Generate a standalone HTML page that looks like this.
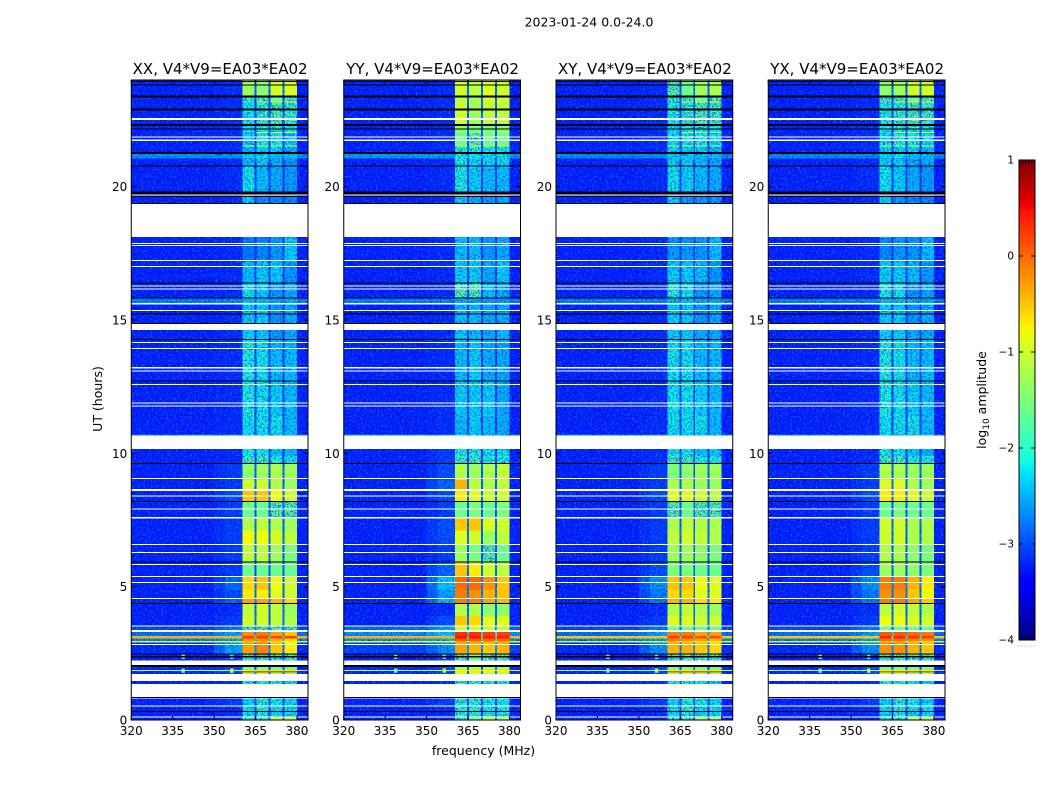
<!DOCTYPE html>
<html>
<head>
<meta charset="utf-8">
<title>2023-01-24 0.0-24.0</title>
<style>
html,body{margin:0;padding:0;background:#fff;width:1050px;height:800px;overflow:hidden}
svg{display:block}
text{font-family:"DejaVu Sans","Liberation Sans",sans-serif;fill:#000}
</style>
</head>
<body>
<svg id="chart" xmlns="http://www.w3.org/2000/svg" width="1050" height="800" viewBox="0 0 1050 800">
  <defs>
    <filter id="grain-light" x="0" y="0" width="100%" height="100%" color-interpolation-filters="sRGB">
      <feTurbulence type="fractalNoise" baseFrequency="0.55" numOctaves="1" seed="4"/>
      <feColorMatrix type="matrix" values="0 0 0 0 0.05  0 0 0 0 0.6  0 0 0 0 1  3.4 0 0 0 -1.55"/>
    </filter>
    <filter id="grain-dark" x="0" y="0" width="100%" height="100%" color-interpolation-filters="sRGB">
      <feTurbulence type="fractalNoise" baseFrequency="0.55" numOctaves="1" seed="11"/>
      <feColorMatrix type="matrix" values="0 0 0 0 0  0 0 0 0 0.02  0 0 0 0 0.8  0 3.4 0 0 -1.55"/>
    </filter>
  </defs>
  <rect width="1050" height="800" fill="#fff"/>
  <text x="589" y="26.5" font-size="12.5" text-anchor="middle">2023-01-24 0.0-24.0</text>
  <text x="483.5" y="755" font-size="12.5" text-anchor="middle">frequency (MHz)</text>
  <text transform="translate(102,399) rotate(-90)" font-size="12.5" text-anchor="middle">UT (hours)</text>
  <text transform="translate(986,400) rotate(-90)" font-size="12.5" text-anchor="middle">log<tspan font-size="9" dy="3">10</tspan><tspan dy="-3"> amplitude</tspan></text>
  <g id="panels"></g>
  <g id="colorbar"></g>
</svg>
<script>
// ---- data -----------------------------------------------------------------
const panelTitles = ["XX, V4*V9=EA03*EA02", "YY, V4*V9=EA03*EA02", "XY, V4*V9=EA03*EA02", "YX, V4*V9=EA03*EA02"];
const hourTicks = [0, 5, 10, 15, 20];
const freqTicks = [320, 335, 350, 365, 380];
const colorbarTicks = [1, 0, -1, -2, -3, -4];
const colorbarTickLabels = ["1", "0", "\u22121", "\u22122", "\u22123", "\u22124"];

// time blocks, hours [upper, lower]
const blockHours = [
[24,23.4],[23.4,23.19],[23.19,23.15],[23.15,22.3],[22.3,22.05],[22.05,22.01],[22.01,21.55],[21.55,21.51],[21.51,21.23],[21.23,21.05],
[21.05,20.78],[20.78,19.8],[19.8,18.1],[18.1,17.2],[17.2,16.4],[16.4,15.85],[15.85,15.6],[15.6,14.88],[14.88,14.25],[14.25,12.7],
[12.7,11.4],[11.4,10.7],[10.7,10.16],[10.16,9.9],[9.9,9.6],[9.6,9.0],[9.0,8.65],[8.65,8.2],[8.2,7.6],[7.6,7.1],
[7.1,6.56],[6.56,5.91],[5.91,5.4],[5.4,4.9],[4.9,4.58],[4.58,4.37],[4.37,3.9],[3.9,3.55],[3.55,3.3],[3.3,3.15],
[3.15,3.05],[3.05,2.96],[2.96,2.9],[2.9,2.49],[2.49,2.0],[2.0,1.88],[1.88,1.84],[1.84,1.78],[1.78,1.47],[1.47,0.81],
[0.81,0.5],[0.5,0.09],[0.09,0]
];

// log10 amplitude per block: [background, shoulder, band1, band2, band3, band4]
const levelsXX = [
[-3.25,-3.2,-1.3,-1.4,-0.95,-0.95],[-3.25,-3.2,-1.9,-1.8,-1.6,-1.8],[-3.25,-3.2,-1.8,-1.2,-0.9,-0.9],[-3.25,-3.2,-2.15,-1.95,-1.75,-1.9],[-3.25,-3.2,-2.2,-2.0,-2.0,-2.1],
[-3.25,-3.2,-2.2,-1.0,-1.0,-1.0],[-3.25,-3.2,-2.3,-2.1,-2.1,-2.3],[-3.25,-3.2,-1.0,-1.0,-1.0,-1.0],[-3.25,-3.2,-2.35,-2.25,-2.25,-2.45],[-2.6,-2.6,-2.25,-2.15,-2.35,-2.35],
[-3.25,-3.2,-2.35,-2.25,-2.45,-2.55],[-3.25,-3.2,-2.15,-2.35,-2.45,-2.55],[-3.25,-3.2,-2.25,-2.65,-2.65,-2.65],[-3.25,-3.2,-2.75,-2.65,-2.55,-2.25],[-3.25,-3.2,-2.35,-2.25,-2.25,-2.55],
[-3.25,-3.2,-2.15,-2.25,-2.55,-2.45],[-2.7,-2.65,-2.35,-2.35,-2.45,-2.45],[-3.25,-3.2,-2.25,-2.25,-2.55,-2.45],[-3.25,-3.2,-2.25,-2.25,-2.55,-2.45],[-3.25,-3.2,-2.05,-2.15,-2.35,-2.35],
[-3.25,-3.2,-2.05,-2.15,-2.25,-2.35],[-3.25,-3.2,-2.15,-2.15,-2.15,-2.35],[-2.65,-2.65,-2.25,-2.25,-2.35,-2.35],[-3.25,-3.2,-2.1,-2.1,-2.3,-2.4],[-3.25,-3.2,-1.85,-1.85,-2.05,-2.15],
[-3.25,-3.1,-1.4,-1.3,-1.2,-1.3],[-3.25,-3.1,-1.0,-1.0,-1.2,-1.3],[-3.25,-3.0,-0.5,-0.5,-0.8,-1.0],[-3.25,-3.1,-1.6,-1.6,-1.7,-1.7],[-3.25,-3.1,-1.2,-1.1,-1.2,-1.3],
[-3.25,-3.1,-0.8,-0.8,-1.0,-1.1],[-3.25,-3.1,-1.1,-1.1,-1.3,-1.5],[-3.25,-3.1,-1.6,-1.6,-1.6,-1.6],[-3.25,-2.85,-0.6,-0.5,-0.8,-1.0],[-3.25,-3.0,-0.7,-0.7,-0.9,-1.0],
[-3.25,-2.85,-0.3,-0.3,-0.4,-0.6],[-3.25,-3.2,-1.1,-1.0,-1.1,-1.3],[-3.25,-3.1,-1.0,-1.0,-1.1,-1.2],[-3.05,-2.75,-1.7,-1.7,-1.7,-1.7],[-2.8,-2.5,-0.2,-0.1,-0.3,-0.5],
[-0.4,-0.4,0.25,0.25,0.2,0.2],[-2.7,-2.5,-0.2,-0.2,-0.4,-0.6],[-1.0,-1.0,-0.5,-0.4,-0.6,-0.8],[-3.2,-2.5,-0.3,-0.15,-0.5,-0.7],[-3.25,-3.1,-1.8,-1.7,-1.8,-1.8],
[-3.2,-3.0,-1.5,-1.4,-1.5,-1.5],[-1.0,-1.0,-0.9,-0.9,-1.0,-1.0],[-3.2,-3.0,0.2,0.2,0.15,0.15],[-3.2,-3.1,-1.3,-1.2,-1.4,-1.4],[-3.25,-3.2,-2.0,-2.0,-2.1,-2.2],
[-3.25,-3.1,-2.2,-2.0,-2.1,-2.2],[-3.25,-3.2,-2.2,-2.0,-2.2,-2.2],[-3.25,-3.2,-2.0,-1.9,-1.0,-1.0]
];
const levelsYY = [
[-3.25,-3.2,-1.0,-1.1,-0.9,-1.0],[-3.25,-3.2,-1.1,-1.3,-0.9,-1.0],[-3.25,-3.2,-1.0,-1.0,-0.7,-0.8],[-3.25,-3.2,-1.0,-1.3,-1.1,-1.1],[-3.25,-3.2,-1.4,-1.5,-1.5,-1.4],
[-3.25,-3.2,-1.4,-1.2,-1.2,-1.2],[-3.25,-3.2,-1.6,-1.7,-1.6,-1.6],[-3.25,-3.2,-0.9,-0.9,-0.9,-0.9],[-3.25,-3.2,-2.0,-2.0,-2.1,-2.1],[-2.55,-2.55,-2.0,-2.1,-2.2,-2.1],
[-3.25,-3.2,-2.1,-2.2,-2.2,-2.2],[-3.25,-3.2,-2.05,-2.25,-2.35,-2.35],[-3.25,-3.2,-2.25,-2.45,-2.55,-2.45],[-3.25,-3.2,-2.35,-2.35,-2.55,-2.45],[-3.25,-3.2,-2.25,-2.25,-2.45,-2.25],
[-3.25,-3.2,-1.75,-1.75,-2.35,-2.45],[-2.7,-2.7,-2.45,-2.45,-2.55,-2.55],[-3.25,-3.2,-2.35,-2.35,-2.45,-2.45],[-3.25,-3.2,-2.25,-2.35,-2.45,-2.35],[-3.25,-3.2,-2.35,-2.25,-2.45,-2.45],
[-3.25,-3.2,-2.25,-2.25,-2.25,-2.45],[-3.25,-3.2,-2.35,-2.25,-2.35,-2.45],[-2.55,-2.55,-2.3,-2.2,-2.3,-2.4],[-3.25,-3.1,-2.05,-2.05,-2.15,-2.15],[-3.25,-3.1,-1.85,-1.85,-2.05,-2.05],
[-3.25,-3.0,-1.2,-1.3,-1.2,-1.1],[-3.25,-2.85,-0.4,-1.1,-1.2,-1.1],[-3.25,-3.0,-0.7,-0.9,-1.0,-1.0],[-3.25,-3.1,-1.6,-1.5,-1.6,-1.5],[-3.25,-3.0,-0.5,-0.5,-0.9,-1.0],
[-3.25,-3.0,-0.9,-1.0,-1.3,-1.1],[-3.25,-3.1,-1.3,-1.5,-1.7,-1.6],[-3.25,-2.85,-0.5,-0.7,-1.0,-1.1],[-3.25,-2.3,0.0,0.0,-0.2,-0.5],[-3.25,-2.5,-0.1,-0.2,-0.4,-0.5],
[-3.25,-2.4,-0.1,-0.1,-0.3,-0.4],[-3.25,-3.2,-1.2,-1.2,-1.4,-1.4],[-3.25,-3.0,-0.5,-0.6,-0.9,-0.9],[-2.85,-2.5,-1.0,-1.0,-1.0,-1.1],[-2.6,-2.3,0.3,0.3,0.2,0.2],
[-0.4,-0.4,0.45,0.45,0.4,0.4],[-2.6,-2.4,0.1,0.1,0.0,0.0],[-0.8,-0.8,-0.3,-0.3,-0.3,-0.3],[-3.05,-2.6,-0.3,-0.4,-0.5,-0.4],[-3.25,-3.1,-1.7,-1.6,-1.7,-1.7],
[-3.2,-3.0,-1.2,-1.1,-1.2,-1.2],[-1.0,-1.0,-0.8,-0.8,-0.9,-0.9],[-3.2,-3.0,-0.7,-0.7,-0.7,-0.7],[-3.2,-3.1,-1.1,-1.0,-1.2,-1.2],[-3.25,-3.2,-1.9,-2.0,-2.0,-2.1],
[-3.25,-3.1,-2.0,-2.0,-2.1,-2.1],[-3.25,-3.2,-2.0,-2.0,-2.1,-2.1],[-3.25,-3.2,-1.8,-1.6,-1.1,-1.1]
];
const levelsXY = [
[-3.25,-3.2,-1.7,-1.6,-1.3,-1.2],[-3.25,-3.2,-1.9,-1.8,-1.6,-1.7],[-3.25,-3.2,-1.8,-1.3,-1.0,-1.0],[-3.25,-3.2,-2.05,-1.95,-1.75,-1.85],[-3.25,-3.2,-2.2,-2.0,-2.0,-2.1],
[-3.25,-3.2,-2.05,-1.2,-1.2,-1.2],[-3.25,-3.2,-2.2,-2.1,-2.1,-2.2],[-3.25,-3.2,-1.2,-1.2,-1.2,-1.2],[-3.25,-3.2,-2.25,-2.25,-2.25,-2.35],[-2.65,-2.65,-2.25,-2.25,-2.35,-2.35],
[-3.25,-3.2,-2.25,-2.25,-2.35,-2.45],[-3.25,-3.2,-2.15,-2.25,-2.35,-2.45],[-3.25,-3.2,-2.25,-2.55,-2.55,-2.55],[-3.25,-3.2,-2.55,-2.55,-2.55,-2.35],[-3.25,-3.2,-2.25,-2.25,-2.35,-2.55],
[-3.25,-3.2,-2.05,-2.15,-2.55,-2.45],[-2.7,-2.65,-2.35,-2.35,-2.45,-2.45],[-3.25,-3.2,-2.25,-2.25,-2.55,-2.45],[-3.25,-3.2,-2.25,-2.25,-2.45,-2.45],[-3.25,-3.2,-2.15,-2.15,-2.35,-2.35],
[-3.25,-3.2,-2.15,-2.15,-2.25,-2.35],[-3.25,-3.2,-2.15,-2.15,-2.15,-2.35],[-2.65,-2.65,-2.25,-2.25,-2.35,-2.35],[-3.25,-3.2,-2.1,-2.1,-2.3,-2.3],[-3.25,-3.2,-1.85,-1.85,-2.05,-2.05],
[-3.25,-3.1,-1.5,-1.4,-1.3,-1.3],[-3.25,-3.1,-1.2,-1.2,-1.3,-1.3],[-3.25,-3.0,-0.9,-0.9,-1.0,-1.1],[-3.25,-3.1,-1.7,-1.6,-1.7,-1.7],[-3.25,-3.1,-1.2,-1.1,-1.2,-1.2],
[-3.25,-3.1,-1.1,-1.0,-1.1,-1.2],[-3.25,-3.1,-1.3,-1.3,-1.4,-1.5],[-3.25,-3.0,-1.5,-1.5,-1.6,-1.6],[-3.25,-2.6,-0.5,-0.5,-0.8,-0.9],[-3.25,-2.75,-0.6,-0.6,-0.9,-0.9],
[-3.25,-2.75,-0.4,-0.4,-0.6,-0.7],[-3.25,-3.2,-1.2,-1.1,-1.2,-1.3],[-3.25,-3.1,-0.9,-0.9,-1.0,-1.0],[-3.05,-2.75,-1.6,-1.6,-1.6,-1.6],[-2.8,-2.5,-0.1,-0.1,-0.3,-0.3],
[-0.5,-0.5,0.25,0.2,0.15,0.15],[-2.7,-2.5,-0.1,-0.2,-0.3,-0.4],[-1.0,-1.0,-0.5,-0.5,-0.6,-0.7],[-3.2,-2.6,-0.4,-0.4,-0.5,-0.6],[-3.25,-3.1,-1.8,-1.7,-1.8,-1.8],
[-3.2,-3.0,-1.5,-1.4,-1.5,-1.5],[-1.0,-1.0,-0.9,-0.9,-1.0,-1.0],[-3.2,-3.0,0.1,0.1,0.1,0.1],[-3.2,-3.1,-1.3,-1.2,-1.4,-1.4],[-3.25,-3.2,-2.0,-2.0,-2.1,-2.2],
[-3.25,-3.1,-2.2,-2.0,-2.1,-2.2],[-3.25,-3.2,-2.2,-2.0,-2.2,-2.2],[-3.25,-3.2,-2.0,-1.9,-1.2,-1.2]
];
const levelsYX = [
[-3.25,-3.2,-1.4,-1.3,-1.0,-1.0],[-3.25,-3.2,-1.8,-1.8,-1.6,-1.7],[-3.25,-3.2,-1.7,-1.2,-0.9,-0.9],[-3.25,-3.2,-2.05,-1.95,-1.75,-1.85],[-3.25,-3.2,-2.1,-2.0,-2.0,-2.1],
[-3.25,-3.2,-2.1,-1.0,-1.0,-1.0],[-3.25,-3.2,-2.2,-2.1,-2.1,-2.2],[-3.25,-3.2,-1.0,-1.0,-1.0,-1.0],[-3.25,-3.2,-2.25,-2.25,-2.25,-2.35],[-2.65,-2.65,-2.25,-2.15,-2.35,-2.35],
[-3.25,-3.2,-2.25,-2.25,-2.45,-2.45],[-3.25,-3.2,-2.15,-2.25,-2.45,-2.55],[-3.25,-3.2,-2.25,-2.55,-2.65,-2.65],[-3.25,-3.2,-2.65,-2.55,-2.55,-2.35],[-3.25,-3.2,-2.25,-2.25,-2.35,-2.55],
[-3.25,-3.2,-2.05,-2.15,-2.55,-2.45],[-2.7,-2.65,-2.35,-2.35,-2.45,-2.45],[-3.25,-3.2,-2.25,-2.25,-2.55,-2.45],[-3.25,-3.2,-2.25,-2.25,-2.45,-2.45],[-3.25,-3.2,-2.05,-2.15,-2.35,-2.35],
[-3.25,-3.2,-2.05,-2.15,-2.25,-2.35],[-3.25,-3.2,-2.15,-2.15,-2.15,-2.35],[-2.65,-2.65,-2.25,-2.25,-2.35,-2.35],[-3.25,-3.2,-2.1,-2.1,-2.3,-2.4],[-3.25,-3.2,-1.85,-1.85,-2.05,-2.05],
[-3.25,-3.1,-1.2,-1.2,-1.3,-1.3],[-3.25,-3.1,-0.9,-0.9,-1.2,-1.3],[-3.25,-3.0,-0.7,-0.7,-0.9,-1.0],[-3.25,-3.1,-1.6,-1.5,-1.6,-1.6],[-3.25,-3.1,-1.0,-1.0,-1.2,-1.2],
[-3.25,-3.1,-1.0,-1.0,-1.2,-1.2],[-3.25,-3.1,-1.2,-1.2,-1.4,-1.5],[-3.25,-3.0,-1.3,-1.3,-1.4,-1.5],[-3.25,-2.6,-0.1,-0.1,-0.4,-0.7],[-3.25,-2.75,-0.2,-0.2,-0.5,-0.8],
[-3.25,-2.75,-0.1,-0.1,-0.3,-0.5],[-3.25,-3.2,-1.1,-1.0,-1.1,-1.2],[-3.25,-3.1,-0.8,-0.8,-0.9,-1.0],[-3.05,-2.75,-1.6,-1.6,-1.6,-1.6],[-2.8,-2.5,0.1,0.1,0.0,-0.1],
[-0.5,-0.5,0.35,0.35,0.3,0.25],[-2.7,-2.5,0.0,0.0,-0.1,-0.2],[-1.0,-1.0,-0.4,-0.4,-0.5,-0.6],[-3.2,-2.6,-0.2,-0.2,-0.4,-0.5],[-3.25,-3.1,-1.8,-1.7,-1.8,-1.8],
[-3.2,-3.0,-1.5,-1.4,-1.5,-1.5],[-1.0,-1.0,-0.9,-0.9,-1.0,-1.0],[-3.2,-3.0,0.1,0.1,0.1,0.1],[-3.2,-3.1,-1.3,-1.2,-1.4,-1.4],[-3.25,-3.2,-2.0,-2.0,-2.1,-2.2],
[-3.25,-3.1,-2.2,-2.0,-2.1,-2.2],[-3.25,-3.2,-2.2,-2.0,-2.2,-2.2],[-3.25,-3.2,-2.0,-1.9,-1.1,-1.1]
];
const panelLevels = [levelsXX, levelsYY, levelsXY, levelsYX];

// flagged-out time ranges, hours [upper, lower]
const blankedHours = [
[22.58,22.5],[21.89,21.85],[21.76,21.72],[19.71,19.67],[19.37,18.11],[17.89,17.85],[17.81,17.77],[17.25,17.21],[17.03,16.99],[16.3,16.26],
[16.19,16.15],[15.64,15.58],[15.38,15.34],[14.88,14.63],[14.18,14.14],[13.95,13.91],[13.23,13.19],[13.11,13.07],[12.6,12.56],[11.91,11.87],
[11.8,11.76],[10.66,10.16],[9.08,9.04],[8.66,8.59],[8.42,8.38],[7.93,7.89],[7.61,7.56],[6.6,6.56],[6.3,6.26],[5.85,5.81],
[5.4,5.36],[5.18,5.14],[4.58,4.54],[3.55,3.51],[3.38,3.3],[2.85,2.81],[2.23,2.06],[1.72,1.47],[1.35,0.87],[0.84,0.81],
[0.54,0.5],[0.13,0.09]
];
// zero-amplitude time ranges, hours [upper, lower]
const zeroHours = [
[23.96,23.93],[23.84,23.81],[23.42,23.34],[22.94,22.86],[22.35,22.28],[22.19,22.16],[21.3,21.23],[20.79,20.76],[19.81,19.71],[19.65,19.61],
[19.39,19.36],[16.41,16.38],[15.85,15.83],[15.25,15.22],[14.89,14.87],[14.28,14.25],[12.73,12.7],[9.63,9.6],[8.22,8.18],[5.94,5.91],
[4.38,4.35],[2.49,2.46],[2.4,2.34],[2.06,1.99],[0.87,0.84],[0.33,0.31]
];
// narrow interference bursts: MHz, hour, log10 amplitude
const burstFreqs = [338.8, 338.8, 356.4, 356.4];
const burstHours = [2.37, 1.85, 2.37, 1.85];
const burstLevels = [-1.7, -1.4, -2.0, -1.0];

// ---- scales ---------------------------------------------------------------
const panelLefts = [131.25, 343.75, 556, 768.25];
const panelWidth = 176.75;
const plotTop = 80, plotBottom = 720;
const freqMin = 320, freqMax = 384, hourMax = 24;
const cbLeft = 1019, cbWidth = 16, cbTop = 160, cbBottom = 640;
const gapFraction = 0.2;
const smoothAbove = -1.65;
function xScale(p, f) { return panelLefts[p] + (f - freqMin) / (freqMax - freqMin) * panelWidth; }
function yScale(h) { return plotBottom - h / hourMax * (plotBottom - plotTop); }
function cbScale(v) { return cbBottom - (v + 4) / 5 * (cbBottom - cbTop); }
function lerp(xs, ys, x) {
  if (x <= xs[0]) return ys[0];
  for (let i = 1; i < xs.length; i++) {
    if (x <= xs[i]) return ys[i-1] + (ys[i]-ys[i-1]) * (x-xs[i-1]) / (xs[i]-xs[i-1]);
  }
  return ys[ys.length-1];
}
function jet(logv) {
  const t = Math.min(1, Math.max(0, (logv + 4) / 5));
  const r = lerp([0,0.35,0.66,0.89,1],[0,0,1,1,0.5],t);
  const g = lerp([0,0.125,0.375,0.64,0.91,1],[0,0,1,1,0,0],t);
  const b = lerp([0,0.11,0.34,0.65,1],[0.5,1,1,0,0],t);
  return "rgb(" + Math.round(r*255) + "," + Math.round(g*255) + "," + Math.round(b*255) + ")";
}
const NS = "http://www.w3.org/2000/svg";
function shape(parent, tag, attrs) {
  const el = document.createElementNS(NS, tag);
  for (const k in attrs) el.setAttribute(k, attrs[k]);
  parent.appendChild(el);
  return el;
}
function channelSpans(row) {
  const bg = row[0], sh = row[1], b = row.slice(2);
  const gap = (k) => bg + gapFraction * (Math.min(b[k], b[k+1]) - bg);
  return [
    [320, 350, bg], [350, 354, (bg + sh) / 2], [354, 360.3, sh],
    [360.3, 364.7, b[0]], [364.7, 365.4, gap(0)], [365.4, 369.7, b[1]], [369.7, 370.4, gap(1)],
    [370.4, 374.8, b[2]], [374.8, 375.5, gap(2)], [375.5, 380, b[3]], [380, 384, bg]
  ];
}

// ---- panels ---------------------------------------------------------------
const panelsGroup = document.getElementById("panels");
panelTitles.forEach(function (title, p) {
  const g = shape(panelsGroup, "g", {});
  
  
  const left = panelLefts[p], right = left + panelWidth;

  function drawCells(wantHot) {
    blockHours.forEach(function (hours, i) {
      channelSpans(panelLevels[p][i]).forEach(function (span) {
        if ((span[2] > smoothAbove) !== wantHot) return;
        const cell = shape(g, "rect", {
          x: xScale(p, span[0]), y: yScale(hours[0]),
          width: xScale(p, span[1]) - xScale(p, span[0]),
          height: yScale(hours[1]) - yScale(hours[0]),
          fill: jet(span[2]), "shape-rendering": "crispEdges"
        });
        
        
      });
    });
  }
  drawCells(false);
  ["grain-light", "grain-dark"].forEach(function (id) {
    const grain = shape(g, "rect", {
      x: left, y: plotTop, width: panelWidth, height: plotBottom - plotTop,
      fill: "#000", filter: "url(#" + id + ")", opacity: 0.6
    });
    
    
  });
  drawCells(true);
  burstFreqs.forEach(function (f, i) {
    const burst = shape(g, "rect", {
      x: xScale(p, f - 0.6), y: yScale(burstHours[i] + 0.08),
      width: xScale(p, f + 0.6) - xScale(p, f - 0.6),
      height: yScale(burstHours[i] - 0.08) - yScale(burstHours[i] + 0.08),
      fill: jet(burstLevels[i])
    });
    
    
  });
  blankedHours.forEach(function (h) {
    const band = shape(g, "rect", {
      x: left, y: yScale(h[0]), width: panelWidth,
      height: Math.max(1, yScale(h[1]) - yScale(h[0])), fill: "#fff", "shape-rendering": "crispEdges"
    });
    
    
  });
  zeroHours.forEach(function (h) {
    const band = shape(g, "rect", {
      x: left, y: yScale(h[0]), width: panelWidth,
      height: Math.max(1, yScale(h[1]) - yScale(h[0])), fill: "#000", "shape-rendering": "crispEdges"
    });
    
    
  });

  const frame = shape(g, "rect", {
    x: left, y: plotTop, width: panelWidth, height: plotBottom - plotTop,
    fill: "none", stroke: "#000", "stroke-width": 1
  });
  
  

  const titleEl = shape(g, "text", { x: left + panelWidth / 2 + 0.5, y: 74, "font-size": 15, "text-anchor": "middle" });
  titleEl.textContent = title;
  
  

  freqTicks.forEach(function (f) {
    const x = xScale(p, f);
    [[plotBottom, plotBottom - 4], [plotTop, plotTop + 4]].forEach(function (pts) {
      const tick = shape(g, "line", { x1: x, x2: x, y1: pts[0], y2: pts[1], stroke: "#000", "stroke-width": 1 });
      
      
    });
    const label = shape(g, "text", { x: x, y: 735, "font-size": 12, "text-anchor": "middle" });
    label.textContent = String(f);
    
    
  });
  hourTicks.forEach(function (h) {
    const y = yScale(h);
    [[left, left + 4], [right, right - 4]].forEach(function (pts) {
      const tick = shape(g, "line", { x1: pts[0], x2: pts[1], y1: y, y2: y, stroke: "#000", "stroke-width": 1 });
      
      
    });
    const label = shape(g, "text", { x: left - 4, y: y + 4.5, "font-size": 12, "text-anchor": "end" });
    label.textContent = String(h);
    
    
  });
});

// ---- colorbar -------------------------------------------------------------
const cbGroup = document.getElementById("colorbar");
for (let py = cbTop; py < cbBottom; py += 1) {
  const v = -4 + (cbBottom - py - 0.5) / (cbBottom - cbTop) * 5;
  const strip = shape(cbGroup, "rect", { x: cbLeft, y: py, width: cbWidth, height: 1, fill: jet(v), "shape-rendering": "crispEdges" });
  
  
}
const cbFrame = shape(cbGroup, "rect", { x: cbLeft, y: cbTop, width: cbWidth, height: cbBottom - cbTop, fill: "none", stroke: "#000", "stroke-width": 1 });


colorbarTicks.forEach(function (v, i) {
  const y = cbScale(v);
  [[cbLeft, cbLeft + 4], [cbLeft + cbWidth, cbLeft + cbWidth - 4]].forEach(function (pts) {
    const tick = shape(cbGroup, "line", { x1: pts[0], x2: pts[1], y1: y, y2: y, stroke: "#000", "stroke-width": 1 });
    
    
  });
  const label = shape(cbGroup, "text", { x: 1014, y: y + 3.5, "font-size": 10.5, "text-anchor": "end" });
  label.textContent = colorbarTickLabels[i];
  
  
});
[cbTop, cbBottom].forEach(function (edge) {
  const dir = edge === cbTop ? 1 : -1;
  for (let k = 1; k <= 4; k++) {
    const minor = shape(cbGroup, "line", { x1: cbLeft + k * 3.2, x2: cbLeft + k * 3.2, y1: edge, y2: edge + dir * 4, stroke: "#000", "stroke-width": 0.8 });
    
    
  }
});
for (let k = 0; k < 6; k++) {
  const dot = shape(cbGroup, "rect", { x: 1018 + k * 3.3, y: 645.5, width: 1, height: 1, fill: "#aaa" });
  
  
}
</script>
</body>
</html>
